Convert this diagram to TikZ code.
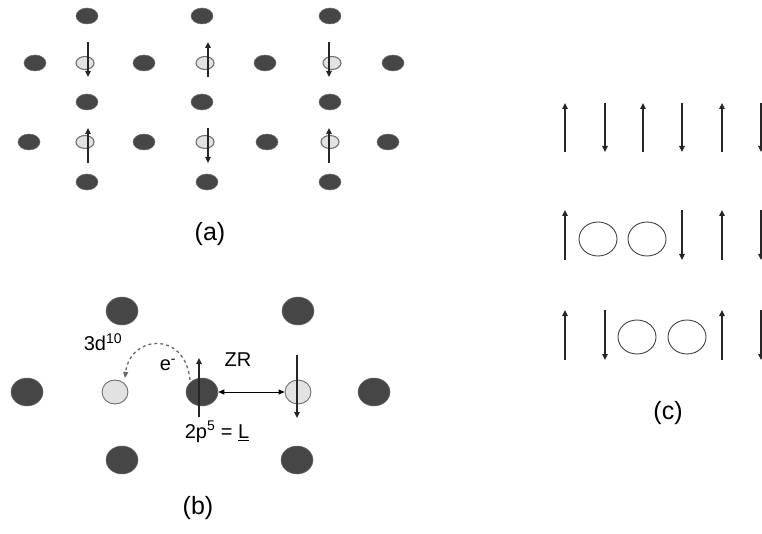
\documentclass[tikz,border=0pt]{standalone}
\usepackage{fontspec}
\setmainfont{Liberation Sans}
\usetikzlibrary{shapes.geometric,arrows.meta}
\definecolor{darkatom}{HTML}{464646}
\definecolor{lightatom}{HTML}{E2E2E2}
\definecolor{rimgray}{HTML}{6E6E6E}
\tikzset{
  cu/.style={ellipse,fill=darkatom,draw=rimgray,line width=0.5pt,inner sep=0pt,minimum width=22pt,minimum height=16pt},
  ox/.style={ellipse,fill=lightatom,draw=rimgray,line width=1.1pt,inner sep=0pt,minimum width=18pt,minimum height=13pt},
  cub/.style={ellipse,fill=darkatom,draw=rimgray,line width=0.5pt,inner sep=0pt,minimum width=32pt,minimum height=28pt},
  oxb/.style={ellipse,fill=lightatom,draw=rimgray,line width=0.9pt,inner sep=0pt,minimum width=26pt,minimum height=24pt},
  hole/.style={ellipse,draw=black!75,line width=0.9pt,inner sep=0pt,minimum width=38pt,minimum height=34pt},
  spin/.style={line width=1.4pt,black!85,-{Triangle[length=6pt,width=5.5pt]}},
  lbl/.style={font=\fontsize{25}{28}\selectfont},
  txt/.style={font=\fontsize{20}{22}\selectfont}
}
\begin{document}
\begin{tikzpicture}[x=1pt,y=-1pt]
\useasboundingbox (0,0) rectangle (762,534);
\clip (0,0) rectangle (762,534);
% ---------- panel (a) ----------
\foreach \n/\x/\y in {a1/87/16,a2/202/16,a3/330/16,
  a4/35/63,a5/144/63,a6/265/63,a7/393/63,
  a8/87/102,a9/202/102,a10/330/102,
  a11/29/142,a12/144/142,a13/267/142,a14/388/142,
  a15/87/182,a16/207/182,a17/330/182}
  \node[cu] (\n) at (\x,\y) {};
\foreach \n/\x/\y in {o1/85/63,o2/205/63,o3/332/63,o4/85/142,o5/205/142,o6/330/142}
  \node[ox] (\n) at (\x,\y) {};
\draw[spin] (88,42) -- (88,77);
\draw[spin] (208,77) -- (208,42);
\draw[spin] (329,42) -- (329,77);
\draw[spin] (88,163) -- (88,128);
\draw[spin] (208,128) -- (208,163);
\draw[spin] (329,163) -- (329,128);
\node[lbl] (la) at (210,234) {(a)};
% ---------- panel (b) ----------
\node[cub] (b1) at (122,311) {};
\node[cub] (b2) at (298,311) {};
\node[cub] (b3) at (27,392) {};
\node[cub] (b4) at (374,392) {};
\node[cub] (bc) at (202,392) {};
\node[cub] (b5) at (122,460) {};
\node[cub] (b6) at (297,460) {};
\node[oxb] (bl) at (115,392) {};
\node[oxb] (br) at (298,392) {};
\draw[spin] (199,417) -- (199,358);
\draw[spin] (297,355) -- (297,418);
\draw[line width=0.9pt,{Triangle[length=6pt,width=5pt]}-{Triangle[length=6pt,width=5pt]}] (bc.east) -- (br.west);
\draw[dashed,line width=1.3pt,black!60,-{Triangle[length=6pt,width=5pt]}] (190,380) .. controls (185,330) and (130,335) .. (125,378);
\node[txt] (d10) at (103,342) {3d\textsuperscript{10}};
\node[txt] (em) at (168,365) {e\textsuperscript{-}};
\node[txt] (zr) at (238,360) {ZR};
\node[txt] (pl) at (217,432) {2p\textsuperscript{5} = \underline{L}};
\node[lbl] (lb) at (198,508) {(b)};
% ---------- panel (c) ----------
\draw[spin] (565,152) -- (565,103);
\draw[spin] (605,103) -- (605,152);
\draw[spin] (643,152) -- (643,103);
\draw[spin] (682,103) -- (682,152);
\draw[spin] (722,152) -- (722,103);
\draw[spin] (761,103) -- (761,152);
\draw[spin] (565,260) -- (565,210);
\node[hole] (h1) at (598,239) {};
\node[hole] (h2) at (647,239) {};
\draw[spin] (682,210) -- (682,260);
\draw[spin] (722,260) -- (722,210);
\draw[spin] (761,210) -- (761,260);
\draw[spin] (565,360) -- (565,310);
\draw[spin] (605,310) -- (605,360);
\node[hole] (h3) at (637,337) {};
\node[hole] (h4) at (687,337) {};
\draw[spin] (722,360) -- (722,310);
\draw[spin] (761,310) -- (761,360);
\node[lbl] (lc) at (668,413) {(c)};
\end{tikzpicture}
\end{document}
